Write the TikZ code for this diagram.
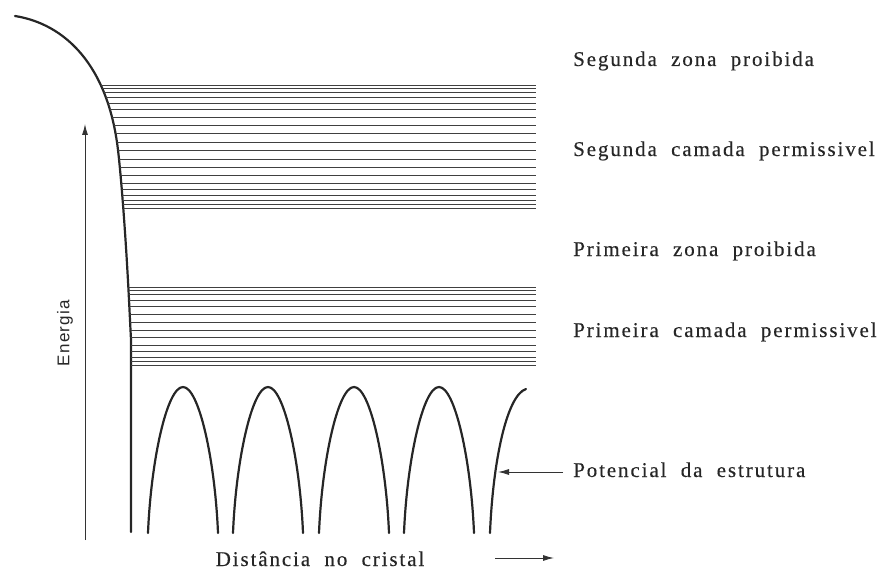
\documentclass[tikz,border=0pt]{standalone}
\usepackage{fontspec}
\setmainfont{Liberation Serif}[LetterSpace=9,WordSpace=2.0,FakeBold=0.3]
\newfontfamily\enfont{Liberation Sans}[LetterSpace=8]
\usetikzlibrary{arrows.meta}
\begin{document}
\begin{tikzpicture}[x=1pt,y=-1pt,
  lbl/.style={anchor=base west,inner sep=0pt,font=\fontsize{21}{23}\selectfont,text=black!85},
  band/.style={line width=0.9pt,black!75},
  thick curve/.style={line width=2.2pt,black!85,line cap=round},
  ptr/.style={line width=0.9pt,black!80,-{Latex[length=11pt,width=6pt]}}]
\useasboundingbox (0,0) rectangle (891,575);
\def\outerpath{(15,16) .. controls (65,24) and (108,65) .. (118,150) .. controls (121.5,180) and (126,240) .. (129,300) -- (131,340) -- (131,532)}
% outer potential curve
\draw[thick curve] \outerpath;
% bands clipped right of curve
\begin{scope}
\clip \outerpath -- (700,532) -- (700,0) -- (15,0) -- cycle;
\foreach \k in {0,...,19}{
  \pgfmathsetmacro{\u}{2*\k/19-1}
  \pgfmathsetmacro{\yy}{146.5+61.5*(0.4*\u+0.6*sin(90*\u))}
  \draw[band] (90,\yy) -- (536,\yy);
}
\foreach \k in {0,...,13}{
  \pgfmathsetmacro{\u}{2*\k/13-1}
  \pgfmathsetmacro{\yy}{326+39*(0.4*\u+0.6*sin(90*\u))}
  \draw[band] (90,\yy) -- (536,\yy);
}
\end{scope}
% arches
\foreach \xc in {183,268,354,439}{
  \draw[thick curve] (\xc-35,533) .. controls (\xc-32,460) and (\xc-16,387) .. (\xc,387)
     .. controls (\xc+16,387) and (\xc+32,460) .. (\xc+35,533);
}
\draw[thick curve] (490,533) .. controls (493,460) and (507,395) .. (526,389);
% energy axis
\coordinate (eb) at (85,540);
\coordinate (et) at (85,124);
\draw[ptr] (eb) -- (et);
\node[rotate=90,inner sep=0pt,font=\enfont\fontsize{17}{19}\selectfont,text=black!85] (en) at (65,333) {Energia};
% labels
\node[lbl] (l1) at (573,66) {Segunda zona proibida};
\node[lbl] (l2) at (573,156) {Segunda camada permissivel};
\node[lbl] (l3) at (573,256) {Primeira zona proibida};
\node[lbl] (l4) at (573,337) {Primeira camada permissivel};
\node[lbl] (l5) at (573,477) {Potencial da estrutura};
\node[anchor=base,inner sep=0pt,font=\fontsize{21}{23}\selectfont,text=black!85] (dist) at (320,566) {Distância no cristal};
\coordinate (pa) at (563,472);
\coordinate (pb) at (498,472);
\draw[ptr] (pa) -- (pb);
\coordinate (da) at (495,558);
\coordinate (db) at (554,558);
\draw[ptr] (da) -- (db);
\end{tikzpicture}
\end{document}
